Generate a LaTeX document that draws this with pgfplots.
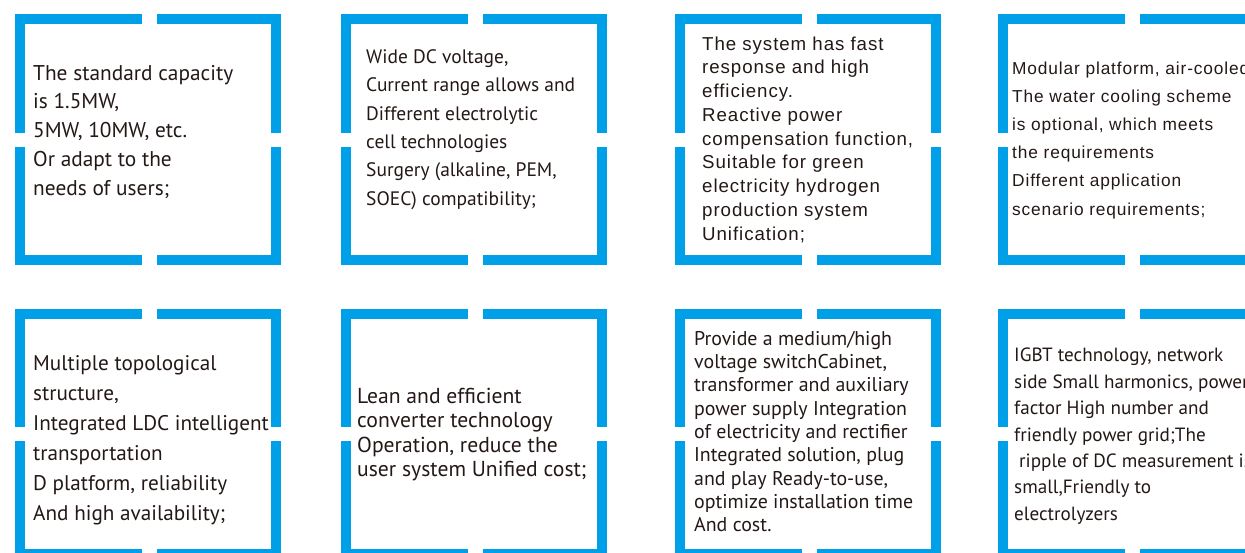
\documentclass[border=0pt]{standalone}
\usepackage{pgfplots}
\pgfplotsset{compat=1.18}
\usepackage{fontspec}
\newfontfamily\pts{PT Sans}
\newfontfamily\ars[LetterSpace=5]{Liberation Sans}
\definecolor{fb}{HTML}{00A0E9}
\definecolor{tc}{HTML}{231815}
\newlength\tw
\newcommand\fitsize[4]{\settowidth\tw{#2\fontsize{10}{12}\selectfont #3}\pgfmathsetmacro#1{10*#4/\tw}}
\newcommand\fA{\pts\fontsize{\fsA}{\fsA}\selectfont}
\newcommand\fB{\pts\fontsize{\fsB}{\fsB}\selectfont}
\newcommand\fC{\ars\fontsize{\fsC}{\fsC}\selectfont}
\newcommand\fD{\ars\fontsize{\fsD}{\fsD}\selectfont}
\newcommand\fE{\pts\fontsize{\fsE}{\fsE}\selectfont}
\newcommand\fF{\pts\fontsize{\fsF}{\fsF}\selectfont}
\newcommand\fG{\pts\fontsize{\fsG}{\fsG}\selectfont}
\newcommand\fH{\pts\fontsize{\fsH}{\fsH}\selectfont}
\newcommand\frameat[3]{%
 \fill[fb] (axis cs:#1,#2) rectangle (axis cs:{#1+127},{#2+10});
 \fill[fb] (axis cs:{#1+142},#2) rectangle (axis cs:{#1+266},{#2+10});
 \fill[fb] (axis cs:#1,{#2+#3-10}) rectangle (axis cs:{#1+127},{#2+#3});
 \fill[fb] (axis cs:{#1+142},{#2+#3-10}) rectangle (axis cs:{#1+266},{#2+#3});
 \fill[fb] (axis cs:#1,#2) rectangle (axis cs:{#1+10},{#2+#3/2-7});
 \fill[fb] (axis cs:#1,{#2+#3/2+7}) rectangle (axis cs:{#1+10},{#2+#3});
 \fill[fb] (axis cs:{#1+256},#2) rectangle (axis cs:{#1+266},{#2+#3/2-7});
 \fill[fb] (axis cs:{#1+256},{#2+#3/2+7}) rectangle (axis cs:{#1+266},{#2+#3});
}
\newcommand\tl[4]{\node[anchor=base west,inner sep=0pt,text=tc,font=#1] at (axis cs:#2,#3) {#4};}
\begin{document}%
\fitsize{\fsA}{\pts}{The standard capacity}{200}%
\fitsize{\fsB}{\pts}{Current range allows and}{209}%
\fitsize{\fsC}{\ars}{compensation function,}{211}%
\fitsize{\fsD}{\ars}{The water cooling scheme}{219.3}%
\fitsize{\fsE}{\pts}{Integrated LDC intelligent}{235.7}%
\fitsize{\fsF}{\pts}{user system Unified cost;}{229.3}%
\fitsize{\fsG}{\pts}{optimize installation time}{219}%
\fitsize{\fsH}{\pts}{IGBT technology, network}{209}%
\begin{tikzpicture}
\begin{axis}[name=ax, width=1245pt, height=552pt, scale only axis,
  xmin=0, xmax=1245, ymin=0, ymax=552, y dir=reverse, hide axis, clip=true]
\frameat{15}{14}{251}
\frameat{341}{14}{251}
\frameat{675}{14}{251}
\frameat{998}{14}{251}
\frameat{15}{309}{250}
\frameat{341}{309}{250}
\frameat{675}{309}{250}
\frameat{998}{309}{250}
% box 1
\tl{\fA}{33}{80}{The standard capacity}
\tl{\fA}{33}{108.75}{is 1.5MW,}
\tl{\fA}{33}{137.5}{5MW, 10MW, etc.}
\tl{\fA}{33}{166.25}{Or adapt to the}
\tl{\fA}{33}{195}{needs of users;}
% box 2
\tl{\fB}{366}{63.3}{Wide DC voltage,}
\tl{\fB}{366}{91.6}{Current range allows and}
\tl{\fB}{366}{120}{Different electrolytic}
\tl{\fB}{366}{148.3}{cell technologies}
\tl{\fB}{366}{176.6}{Surgery (alkaline, PEM,}
\tl{\fB}{366}{205}{SOEC) compatibility;}
% box 3
\tl{\fC}{702}{50}{The system has fast}
\tl{\fC}{702}{73.75}{response and high}
\tl{\fC}{702}{97.5}{efficiency.}
\tl{\fC}{702}{121.25}{Reactive power}
\tl{\fC}{702}{145}{compensation function,}
\tl{\fC}{702}{168.75}{Suitable for green}
\tl{\fC}{702}{192.5}{electricity hydrogen}
\tl{\fC}{702}{216.25}{production system}
\tl{\fC}{702}{240}{Unification;}
% box 4
\tl{\fD}{1012}{74}{Modular platform, air-cooled}
\tl{\fD}{1012}{102.2}{The water cooling scheme}
\tl{\fD}{1012}{130.4}{is optional, which meets}
\tl{\fD}{1012}{158.6}{the requirements}
\tl{\fD}{1012}{186.8}{Different application}
\tl{\fD}{1012}{215}{scenario requirements;}
% box 5
\tl{\fE}{33}{370}{Multiple topological}
\tl{\fE}{33}{400}{structure,}
\tl{\fE}{33}{430}{Integrated LDC intelligent}
\tl{\fE}{33}{460}{transportation}
\tl{\fE}{33}{490}{D platform, reliability}
\tl{\fE}{33}{520}{And high availability;}
% box 6
\tl{\fF}{357}{403.3}{Lean and efficient}
\tl{\fF}{357}{427.8}{converter technology}
\tl{\fF}{357}{452.2}{Operation, reduce the}
\tl{\fF}{357}{476.7}{user system Unified cost;}
% box 7
\tl{\fG}{694}{345}{Provide a medium/high}
\tl{\fG}{694}{368.3}{voltage switchCabinet,}
\tl{\fG}{694}{391.7}{transformer and auxiliary}
\tl{\fG}{694}{415}{power supply Integration}
\tl{\fG}{694}{438.3}{of electricity and rectifier}
\tl{\fG}{694}{461.7}{Integrated solution, plug}
\tl{\fG}{694}{485}{and play Ready-to-use,}
\tl{\fG}{694}{508.3}{optimize installation time}
\tl{\fG}{694}{531.7}{And cost.}
% box 8
\tl{\fH}{1014}{361.7}{IGBT technology, network}
\tl{\fH}{1014}{388.1}{side Small harmonics, power}
\tl{\fH}{1014}{414.6}{factor High number and}
\tl{\fH}{1014}{441}{friendly power grid;The}
\tl{\fH}{1019}{467.4}{ripple of DC measurement is}
\tl{\fH}{1014}{493.9}{small,Friendly to}
\tl{\fH}{1014}{520}{electrolyzers}
\end{axis}
\pgfresetboundingbox
\path (ax.south west) rectangle (ax.north east);
\end{tikzpicture}%
\end{document}
